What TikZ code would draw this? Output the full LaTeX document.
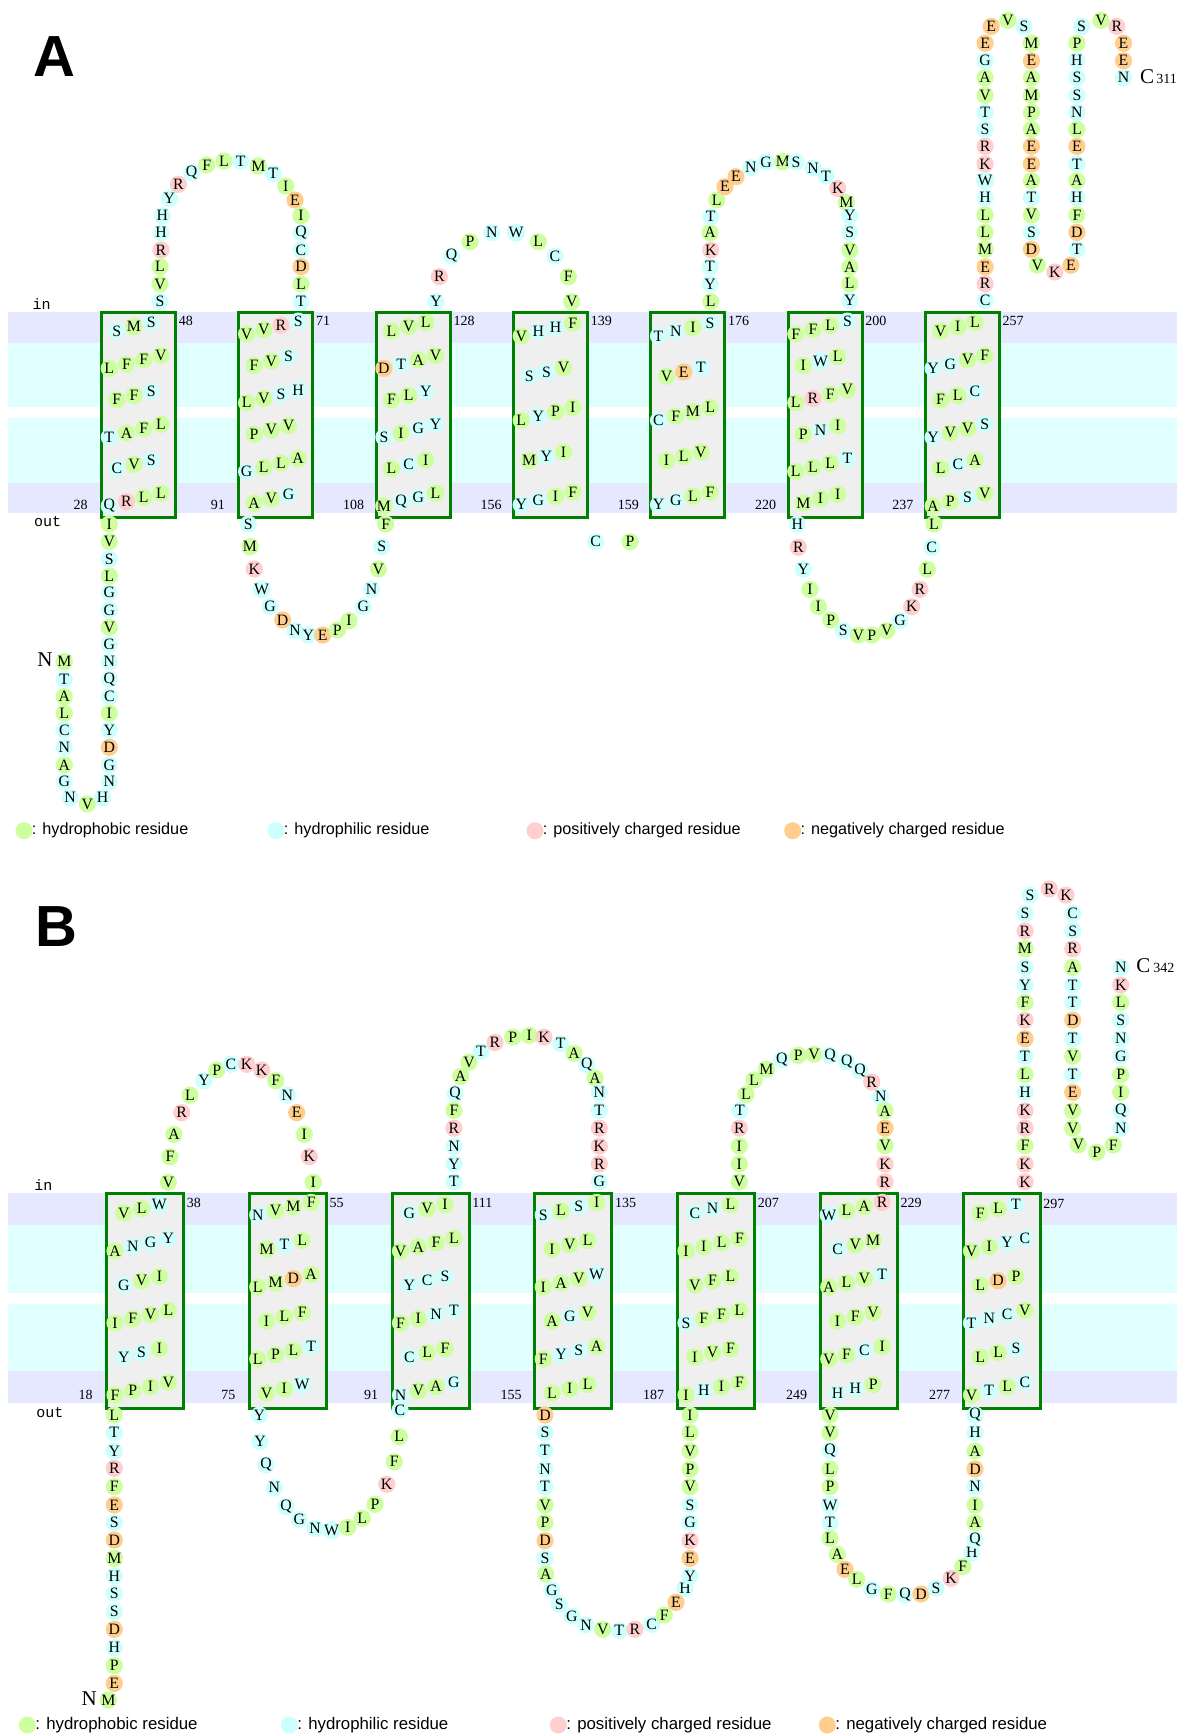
\documentclass[tikz,border=0pt]{standalone}
\usepackage{fontspec}
\setmainfont{Liberation Serif}
\newfontfamily\legfont{Liberation Sans}
\newfontfamily\iofont{Liberation Mono}
\definecolor{hphob}{RGB}{206,255,158}
\definecolor{hphil}{RGB}{206,255,255}
\definecolor{cpos}{RGB}{255,206,206}
\definecolor{cneg}{RGB}{255,206,140}
\definecolor{bandL}{RGB}{230,232,255}
\definecolor{bandC}{RGB}{224,255,255}
\definecolor{boxF}{RGB}{239,239,239}
\definecolor{boxG}{RGB}{0,128,0}
\colorlet{aaA}{hphob}\colorlet{aaV}{hphob}\colorlet{aaL}{hphob}\colorlet{aaI}{hphob}
\colorlet{aaF}{hphob}\colorlet{aaM}{hphob}\colorlet{aaP}{hphob}
\colorlet{aaG}{hphil}\colorlet{aaS}{hphil}\colorlet{aaT}{hphil}\colorlet{aaC}{hphil}
\colorlet{aaY}{hphil}\colorlet{aaN}{hphil}\colorlet{aaQ}{hphil}\colorlet{aaH}{hphil}\colorlet{aaW}{hphil}
\colorlet{aaK}{cpos}\colorlet{aaR}{cpos}
\colorlet{aaD}{cneg}\colorlet{aaE}{cneg}
\newcounter{rsdc}
\newcommand\rsd[3]{\stepcounter{rsdc}\edef\rsdcmd{\noexpand\node[rsdnode,fill=aa#3] (r\arabic{rsdc}) at (#1,#2) {#3};}\rsdcmd}
\newcommand\rlist[1]{\foreach \x/\y/\l in {#1} {\rsd{\x}{\y}{\l}}}
\newcommand\hrow[5]{\foreach \l [count=\j from 0] in {#5} {\rsd{#1+#3*\j}{#2-#4*\j}{\l}}}
\newcommand\rA[4]{\ifnum#3=4 \hrow{#1+9.3}{334+34.4*#2}{17.2}{4.3}{#4}\else\hrow{#1+16.8}{331+34.4*#2}{17.2}{4.3}{#4}\fi}
\newcommand\rAf[4]{\ifnum#3=4 \hrow{#1+9.3}{336+42.2*#2}{17.2}{4.3}{#4}\else\hrow{#1+17.3}{334+42.2*#2}{17.2}{4.3}{#4}\fi}
\newcommand\rB[4]{\ifnum#3=4 \hrow{#1+10}{1215+36*#2}{17.8}{4.2}{#4}\else\hrow{#1+18.8}{1213+36*#2}{17.8}{4.2}{#4}\fi}
\begin{document}
\begin{tikzpicture}[x=0.5pt,y=-0.5pt,
  rsdnode/.style={circle,inner sep=0pt,minimum size=8.6pt,font=\fontsize{7.9}{8}\selectfont},
  tmA/.style={draw=boxG,line width=1.5pt,fill=boxF,anchor=north west,minimum width=37pt,minimum height=102.5pt,inner sep=0pt},
  tmB/.style={draw=boxG,line width=1.5pt,fill=boxF,anchor=north west,minimum width=38.5pt,minimum height=107.5pt,inner sep=0pt},
  numl/.style={font=\fontsize{7}{8}\selectfont,inner sep=0pt},
  iol/.style={font=\iofont\fontsize{7.5}{8}\selectfont,inner sep=0pt},
  term/.style={font=\fontsize{10.5}{12}\selectfont,inner sep=0pt},
  panel/.style={font=\legfont\bfseries\fontsize{29}{30}\selectfont,inner sep=0pt},
  legt/.style={font=\legfont\fontsize{8.1}{9}\selectfont,inner sep=0pt,anchor=west},
  legtB/.style={font=\legfont\fontsize{8.4}{9}\selectfont,inner sep=0pt,anchor=west},
  legdot/.style={circle,inner sep=0pt,minimum size=8.5pt}]
\useasboundingbox (0,0) rectangle (1179,1735);
\fill[white] (0,0) rectangle (1179,1735);
% ================= PANEL A =================
\fill[bandL] (8,311.7) rectangle (1177,342.7);
\fill[bandC] (8,342.7) rectangle (1177,407.3);
\fill[bandC] (8,418.3) rectangle (1177,482.7);
\fill[bandL] (8,482.7) rectangle (1177,513.3);
\node[panel] (labA) at (54,57) {A};
\node[iol] (inA) at (41.7,304) {in};
\node[iol] (outA) at (47.7,521.7) {out};
\node[tmA] (tmA1) at (100,311) {};
\node[tmA] (tmA2) at (237.3,311) {};
\node[tmA] (tmA3) at (374.6,311) {};
\node[tmA] (tmA4) at (511.9,311) {};
\node[tmA] (tmA5) at (649.2,311) {};
\node[tmA] (tmA6) at (786.5,311) {};
\node[tmA] (tmA7) at (923.8,311) {};
% numbers
\node[numl,anchor=west] (nA48) at (178.5,321) {48};
\node[numl,anchor=east] (nA28) at (88,505) {28};
\node[numl,anchor=west] (nA71) at (315.8,321) {71};
\node[numl,anchor=east] (nA91) at (225.3,505) {91};
\node[numl,anchor=west] (nA128) at (453.1,321) {128};
\node[numl,anchor=east] (nA108) at (364.6,505) {108};
\node[numl,anchor=west] (nA139) at (590.4,321) {139};
\node[numl,anchor=east] (nA156) at (502,505) {156};
\node[numl,anchor=west] (nA176) at (727.7,321) {176};
\node[numl,anchor=east] (nA159) at (639.2,505) {159};
\node[numl,anchor=west] (nA200) at (865,321) {200};
\node[numl,anchor=east] (nA220) at (776.5,505) {220};
\node[numl,anchor=west] (nA257) at (1002.3,321) {257};
\node[numl,anchor=east] (nA237) at (913.8,505) {237};
% helices
\rA{100}{0}{3}{S,M,S}\rA{100}{1}{4}{L,F,F,V}\rA{100}{2}{3}{F,F,S}\rA{100}{3}{4}{T,A,F,L}\rA{100}{4}{3}{C,V,S}\rA{100}{5}{4}{Q,R,L,L}
\rA{237.3}{0}{4}{V,V,R,S}\rA{237.3}{1}{3}{F,V,S}\rA{237.3}{2}{4}{L,V,S,H}\rA{237.3}{3}{3}{P,V,V}\rA{237.3}{4}{4}{G,L,L,A}\rA{237.3}{5}{3}{A,V,G}
\rA{374.6}{0}{3}{L,V,L}\rA{374.6}{1}{4}{D,T,A,V}\rA{374.6}{2}{3}{F,L,Y}\rA{374.6}{3}{4}{S,I,G,Y}\rA{374.6}{4}{3}{L,C,I}\rA{374.6}{5}{4}{M,Q,G,L}
\rAf{511.9}{0}{4}{V,H,H,F}\rAf{511.9}{1}{3}{S,S,V}\rAf{511.9}{2}{4}{L,Y,P,I}\rAf{511.9}{3}{3}{M,Y,I}\rAf{511.9}{4}{4}{Y,G,I,F}
\rAf{649.2}{0}{4}{T,N,I,S}\rAf{649.2}{1}{3}{V,E,T}\rAf{649.2}{2}{4}{C,F,M,L}\rAf{649.2}{3}{3}{I,L,V}\rAf{649.2}{4}{4}{Y,G,L,F}
\rA{786.5}{0}{4}{F,F,L,S}\rA{786.5}{1}{3}{I,W,L}\rA{786.5}{2}{4}{L,R,F,V}\rA{786.5}{3}{3}{P,N,I}\rA{786.5}{4}{4}{L,L,L,T}\rA{786.5}{5}{3}{M,I,I}
\rA{923.8}{0}{3}{V,I,L}\rA{923.8}{1}{4}{Y,G,V,F}\rA{923.8}{2}{3}{F,L,C}\rA{923.8}{3}{4}{Y,V,V,S}\rA{923.8}{4}{3}{L,C,A}\rA{923.8}{5}{4}{A,P,S,V}
% N-term A
\node[term] (NA) at (45,660) {N};
\rlist{64.3/661.7/M,64.3/679.3/T,64.3/696.7/A,64.3/713.3/L,64.3/730/C,64.3/747.3/N,64.3/765/A,64.3/781.7/G,70/797.7/N,87.3/804/V,102.7/797.7/H,109.3/781.7/N,109.3/765/G,109.3/747.3/D,109.3/730/Y,109.3/713.3/I,109.3/696.7/C,109.3/679.3/Q,109.3/661.7/N,109.3/644.3/G,109.3/627.3/V,109.3/610/G,109.3/592.7/G,109.3/576/L,109.3/559/S,109.3/541.7/V,109.3/524/I}
% loop A1
\rlist{160/301.7/S,160/284/V,160/266.7/L,161/250/R,161/232.7/H,162.3/215.7/H,169.3/198.3/Y,178.3/184.3/R,191.7/172.7/Q,206.7/165/F,224/161/L,240.7/161/T,258.3/166/M,273.3/173.3/T,285.7/186/I,295/200/E,301/215.7/I,301/232.7/Q,301/250/C,301/266.7/D,301/284/L,301/301.7/T}
% loop A2
\rlist{248.3/524/S,250/546.7/M,254.3/569/K,261.7/589.3/W,270/606.7/G,282.7/620/D,295/630.7/N,308.3/635/Y,322.7/635/E,337.3/630/P,349/620.7/I,363.3/606.7/G,371.7/589.3/N,378.3/569/V,381.7/546.7/S,385.7/524/F}
% loop A3
\rlist{436/301.7/Y,439.3/276.7/R,451.7/256/Q,470/241.7/P,491.7/232.7/N,516/232.7/W,538.3/241.7/L,555/256/C,568.3/276.7/F,571.7/301.7/V}
% loop A4
\rlist{595.7/541.7/C,630/541.7/P}
% loop A5
\rlist{710.7/301.7/L,710/284/Y,710/266.7/T,710.7/250/K,710/232.7/A,710.7/216.7/T,716.7/200/L,725/186.7/E,736/176.7/E,750.7/167.7/N,766/162/G,782.8/161.5/M,796/162/S,813/168/N,826/176/T,837.7/188.5/K,846.4/202.7/M,849.8/215.5/Y,849.8/232.4/S,849.8/250/V,849.8/267/A,849.8/283.8/L,849.8/300.7/Y}
% loop A6
\rlist{797.3/524/H,798.3/547.3/R,803.3/569.3/Y,810/589.3/I,818.3/606.7/I,830.7/620/P,843.3/630.7/S,858.3/635/V,871.7/635/P,886.7/630.7/V,900/620.7/G,911.7/606.7/K,920/589.3/R,927.3/569.3/L,931.7/547.3/C,934/524/L}
% C-term A
\rlist{985.1/300.7/C,985.1/283.8/R,985.1/266.9/E,985.1/249.3/M,985.1/232.4/L,985.1/214.9/L,985.1/197.6/H,985.1/180.7/W,985.1/163.9/K,985.1/146.3/R,985.1/129.4/S,985.1/112.5/T,985.1/95.3/V,985.1/77.7/A,985.1/60.8/G,985.1/43.2/E,991.2/26.4/E,1007.9/20.3/V,1024/26.4/S,1031.4/43.2/M,1031.4/60.8/E,1031.4/77.7/A,1031.4/95.3/M,1031.4/112.5/P,1031.4/129.4/A,1031.4/146.3/E,1031.4/163.9/E,1031.4/180.7/A,1031.4/197.6/T,1031.4/214.9/V,1031.4/232.4/S,1031.4/249.3/D,1037.4/265.2/V,1054.8/272/K,1070.9/265.2/E,1076.9/249.3/T,1076.9/232.4/D,1076.9/214.9/F,1076.9/197.6/H,1076.9/180.7/A,1076.9/163.9/T,1076.9/146.3/E,1076.9/129.4/L,1076.9/112.5/N,1076.9/95.3/S,1076.9/77.7/S,1076.9/60.8/H,1076.9/43.2/P,1081.6/26.4/S,1101/20.3/V,1116.8/26.4/R,1123.5/43.2/E,1123.5/60.8/E,1123.5/77.7/N}
\node[term] (CA) at (1147,77) {C};
\node[numl,anchor=west] (CAn) at (1156,79) {311};
% legend A
\node[legdot,fill=hphob] (lgA1) at (24,830.7) {};
\node[legt] (ltA1) at (31.5,830.7) {: hydrophobic residue};
\node[legdot,fill=hphil] (lgA2) at (276,830.7) {};
\node[legt] (ltA2) at (283.5,830.7) {: hydrophilic residue};
\node[legdot,fill=cpos] (lgA3) at (535,830.7) {};
\node[legt] (ltA3) at (542.5,830.7) {: positively charged residue};
\node[legdot,fill=cneg] (lgA4) at (792.7,830.7) {};
\node[legt] (ltA4) at (800.2,830.7) {: negatively charged residue};
% ================= PANEL B =================
\fill[bandL] (8,1192.7) rectangle (1177,1225);
\fill[bandC] (8,1225) rectangle (1177,1293.3);
\fill[bandC] (8,1304) rectangle (1177,1371);
\fill[bandL] (8,1371) rectangle (1177,1403.3);
\node[panel] (labB) at (56,927) {B};
\node[iol] (inB) at (43.3,1185) {in};
\node[iol] (outB) at (50,1412.7) {out};
\node[tmB] (tmB1) at (105,1191.7) {};
\node[tmB] (tmB2) at (247.75,1191.7) {};
\node[tmB] (tmB3) at (390.5,1191.7) {};
\node[tmB] (tmB4) at (533.25,1191.7) {};
\node[tmB] (tmB5) at (676,1191.7) {};
\node[tmB] (tmB6) at (818.75,1191.7) {};
\node[tmB] (tmB7) at (961.5,1191.7) {};
\node[numl,anchor=west] (nB38) at (186.5,1202.5) {38};
\node[numl,anchor=east] (nB18) at (93,1394.5) {18};
\node[numl,anchor=west] (nB55) at (329.3,1202.5) {55};
\node[numl,anchor=east] (nB75) at (235.7,1394.5) {75};
\node[numl,anchor=west] (nB111) at (472,1202.5) {111};
\node[numl,anchor=east] (nB91) at (378.5,1394.5) {91};
\node[numl,anchor=west] (nB135) at (614.8,1202.5) {135};
\node[numl,anchor=east] (nB155) at (522,1394.5) {155};
\node[numl,anchor=west] (nB207) at (757.5,1202.5) {207};
\node[numl,anchor=east] (nB187) at (664.5,1394.5) {187};
\node[numl,anchor=west] (nB229) at (900.3,1202.5) {229};
\node[numl,anchor=east] (nB249) at (807.5,1394.5) {249};
\node[numl,anchor=west] (nB297) at (1043,1203.5) {297};
\node[numl,anchor=east] (nB277) at (950.5,1394.5) {277};
% helices B
\rB{105}{0}{3}{V,L,W}\rB{105}{1}{4}{A,N,G,Y}\rB{105}{2}{3}{G,V,I}\rB{105}{3}{4}{I,F,V,L}\rB{105}{4}{3}{Y,S,I}\rB{105}{5}{4}{F,P,I,V}
\rB{247.75}{0}{4}{N,V,M,F}\rB{247.75}{1}{3}{M,T,L}\rB{247.75}{2}{4}{L,M,D,A}\rB{247.75}{3}{3}{I,L,F}\rB{247.75}{4}{4}{L,P,L,T}\rB{247.75}{5}{3}{V,I,W}
\rB{390.5}{0}{3}{G,V,I}\rB{390.5}{1}{4}{V,A,F,L}\rB{390.5}{2}{3}{Y,C,S}\rB{390.5}{3}{4}{F,I,N,T}\rB{390.5}{4}{3}{C,L,F}\rB{390.5}{5}{4}{N,V,A,G}
\rB{533.25}{0}{4}{S,L,S,I}\rB{533.25}{1}{3}{I,V,L}\rB{533.25}{2}{4}{I,A,V,W}\rB{533.25}{3}{3}{A,G,V}\rB{533.25}{4}{4}{F,Y,S,A}\rB{533.25}{5}{3}{L,I,L}
\rB{676}{0}{3}{C,N,L}\rB{676}{1}{4}{I,I,L,F}\rB{676}{2}{3}{V,F,L}\rB{676}{3}{4}{S,F,F,L}\rB{676}{4}{3}{I,V,F}\rB{676}{5}{4}{I,H,I,F}
\rB{818.75}{0}{4}{W,L,A,R}\rB{818.75}{1}{3}{C,V,M}\rB{818.75}{2}{4}{A,L,V,T}\rB{818.75}{3}{3}{I,F,V}\rB{818.75}{4}{4}{V,F,C,I}\rB{818.75}{5}{3}{H,H,P}
\rB{961.5}{0}{3}{F,L,T}\rB{961.5}{1}{4}{V,I,Y,C}\rB{961.5}{2}{3}{L,D,P}\rB{961.5}{3}{4}{T,N,C,V}\rB{961.5}{4}{3}{L,L,S}\rB{961.5}{5}{4}{V,T,L,C}
% N-term B
\node[term] (NB) at (89.3,1698.3) {N};
\rlist{108.3/1700/M,114.3/1683.3/E,114.3/1665.7/P,114.3/1647.7/H,114.3/1629.3/D,114.3/1611.7/S,114.3/1593.3/S,114.3/1576/H,114.3/1558.3/M,114.3/1540/D,114.3/1522.7/S,114.3/1505/E,114.3/1486.7/F,114.3/1468.3/R,114.3/1451/Y,114.3/1432.7/T,114.3/1415/L}
% loop B1
\rlist{168.3/1182.3/V,170/1156.7/F,174/1134.3/A,181.7/1112.7/R,190/1095/L,204/1080.7/Y,216.7/1070/P,231/1064.3/C,246.7/1064.3/K,261.7/1070/K,275.7/1080.7/F,287.3/1095/N,296.7/1112.7/E,304.3/1134.3/I,309.3/1156.7/K,313.3/1182.3/I}
% loop B2
\rlist{259.3/1415/Y,260/1441.7/Y,266/1465/Q,274.3/1487.7/N,286/1506.7/Q,299.3/1519.3/G,315/1528.3/N,331.7/1530/W,347.7/1527.3/I,362.3/1518.3/L,375/1504.3/P,386.7/1484.3/K,394.3/1461.7/F,399.3/1436.7/L,400/1410/C}
% loop B3
\rlist{454/1181.8/T,454/1163.9/Y,454/1146.1/N,454/1128.2/R,454/1110.4/F,455/1093.6/Q,460.7/1076.4/A,469/1062.1/V,481/1051.4/T,495/1042.5/R,512.7/1037.1/P,529.3/1035.4/I,544/1037.1/K,560.7/1043.6/T,574/1053.2/A,586.7/1065/Q,595/1078.2/A,599.3/1092.5/N,599.3/1110.4/T,599.3/1128.2/R,599.3/1146.1/K,599.3/1163.9/R,599.3/1181.8/G}
% loop B4
\rlist{545/1415/D,545/1432.7/S,545/1450.7/T,545/1469/N,545/1486.7/T,545/1505/V,545/1522.7/P,545/1540.7/D,545/1558.3/S,545.7/1574/A,551.7/1590/G,559.3/1604.3/S,571.7/1616/G,586/1625/N,602.7/1629.3/V,619.3/1630.7/T,635/1629.3/R,651.7/1624.3/C,664.3/1615/F,676/1602.3/E,685/1588.3/H,690/1576/Y,690/1558.3/E,690/1540.7/K,690/1522.7/G,690/1505/S,690/1486.7/V,690/1469/P,690/1451/V,690/1432.7/L,690/1415/I}
% loop B5
\rlist{739.3/1181.8/V,739.3/1163.9/I,739.3/1146.1/I,739.3/1128.2/R,740/1110.4/T,746/1094.3/L,754/1080/L,766.5/1069.2/M,781.7/1059.8/Q,798.3/1055.3/P,814/1054.2/V,830/1055.3/Q,846.7/1061.6/Q,860/1070.9/Q,871.7/1082/R,880.7/1096.8/N,885/1110.8/A,885/1128.2/E,885/1145.6/V,885/1164.1/K,885/1181.9/R}
% loop B6
\rlist{830/1415/V,830/1432.7/V,830/1450.7/Q,830/1469/L,830/1486.7/P,830/1505/W,830/1522.7/T,830/1538.3/L,837.3/1554.3/A,845/1569.3/E,856.7/1579.3/L,871.7/1589.3/G,888.3/1594/F,905/1595/Q,921/1594/D,936/1588.3/S,951/1578.3/K,962.7/1566.7/F,971.7/1552.7/H,975/1540/Q,975/1522.7/A,975/1505/I,975/1486.7/N,975/1469/D,975/1451/A,975/1432.7/H,975/1415/Q}
% C-term B
\rlist{1025/1181.9/K,1025/1164.1/K,1025/1145.6/F,1025/1128.2/R,1025/1110.8/K,1025/1092.3/H,1025/1074.6/L,1025/1056.1/T,1025/1038.7/E,1025/1020.2/K,1025/1002.4/F,1025/985/Y,1025/967.3/S,1025/948.8/M,1025/931/R,1025/913.6/S,1030/895.1/S,1049.3/888.9/R,1066/895.1/K,1072.7/913.6/C,1072.7/931/S,1072.7/948.8/R,1072.7/967.3/A,1072.7/985/T,1072.7/1002.4/T,1072.7/1020.2/D,1072.7/1038.7/T,1072.7/1056.1/V,1072.7/1074.6/T,1072.7/1092.3/E,1072.7/1110.8/V,1072.7/1128.2/V,1078.3/1144.9/V,1096.7/1152.3/P,1113.3/1144.9/F,1120.7/1128.2/N,1120.7/1110.8/Q,1120.7/1092.3/I,1120.7/1074.6/P,1120.7/1056.1/G,1120.7/1038.7/N,1120.7/1020.2/S,1120.7/1002.4/L,1120.7/985/K,1120.7/967.3/N}
\node[term] (CB) at (1143.3,965.4) {C};
\node[numl,anchor=west] (CBn) at (1153,968) {342};
% legend B
\node[legdot,fill=hphob] (lgB1) at (27.3,1725) {};
\node[legtB] (ltB1) at (35,1725) {: hydrophobic residue};
\node[legdot,fill=hphil] (lgB2) at (289.3,1725) {};
\node[legtB] (ltB2) at (297,1725) {: hydrophilic residue};
\node[legdot,fill=cpos] (lgB3) at (558.3,1725) {};
\node[legtB] (ltB3) at (566,1725) {: positively charged residue};
\node[legdot,fill=cneg] (lgB4) at (827.3,1725) {};
\node[legtB] (ltB4) at (835,1725) {: negatively charged residue};
\end{tikzpicture}
\end{document}
